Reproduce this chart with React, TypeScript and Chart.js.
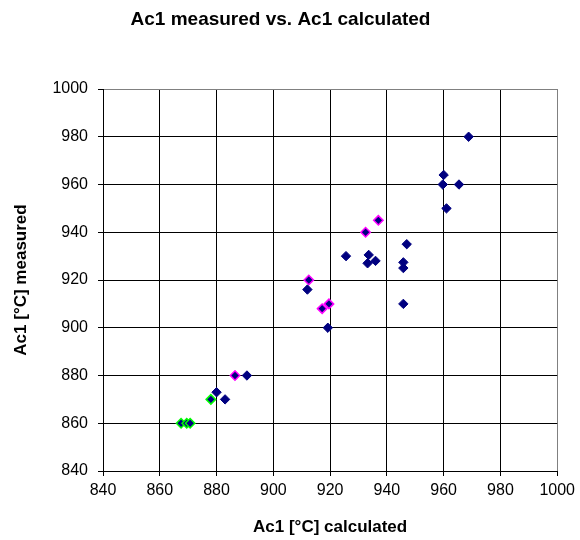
import React, { useEffect, useRef } from "react";
import { Chart, registerables } from "chart.js";

Chart.register(...registerables);

// Ac1 temperatures: calculated (x) vs. measured (y), in °C
const calcMain = [880, 883, 890.7, 912, 919.2, 925.6, 933.6, 933.2, 936, 947, 945.8, 945.8, 945.8, 959.7, 960, 965.4, 961, 968.8];
const measMain = [873, 870, 880, 916, 900, 930, 930.5, 927, 928, 935, 927.4, 925, 910, 960, 964, 960, 950, 980];

const calcPink = [886.5, 912.5, 917.2, 919.6, 932.5, 937];
const measPink = [880, 920, 908, 910, 940, 945];

const calcGreen = [867.5, 869.5, 870.7, 878];
const measGreen = [860, 860, 860, 870];

const axisMin = 840;
const axisMax = 1000;
const axisStep = 20;

const FONT = "'Liberation Sans', Arial, Helvetica, sans-serif";

const toPoints = (xs: number[], ys: number[]) => xs.map((x, i) => ({ x, y: ys[i] }));

export default function App() {
  const canvasRef = useRef<HTMLCanvasElement | null>(null);

  useEffect(() => {
    document.body.style.margin = "0";
    const canvas = canvasRef.current;
    if (!canvas) return;

    // plot-area frame (top and right edges) is grey, inner gridlines black
    const gridColor = (ctx: any) =>
      ctx.tick && ctx.tick.value === axisMax ? "#808080" : "#000000";

    const plainLabel = (value: any) => String(value);

    const chart = new Chart(canvas, {
      type: "scatter",
      data: {
        datasets: [
          {
            label: "main",
            data: toPoints(calcMain, measMain),
            pointStyle: "rectRot",
            pointRadius: 4.7,
            backgroundColor: "#000080",
            borderColor: "#000080",
            borderWidth: 1,
          },
          {
            label: "pink",
            data: toPoints(calcPink, measPink),
            pointStyle: "rectRot",
            pointRadius: 4.7,
            backgroundColor: "#000080",
            borderColor: "#FF00FF",
            borderWidth: 1.5,
          },
          {
            label: "green",
            data: toPoints(calcGreen, measGreen),
            pointStyle: "rectRot",
            pointRadius: 4.7,
            backgroundColor: "#000080",
            borderColor: "#00FF00",
            borderWidth: 1.5,
          },
        ],
      },
      options: {
        responsive: false,
        animation: false,
        devicePixelRatio: 1,
        layout: { padding: { left: 0, right: 19, top: 0, bottom: 0 } },
        plugins: {
          legend: { display: false },
          tooltip: { enabled: false },
          title: {
            display: true,
            text: "Ac1 measured vs. Ac1 calculated",
            color: "#000",
            font: { family: FONT, size: 19, weight: "bold" },
            padding: { top: 8, bottom: 58.2 },
          },
        },
        scales: {
          x: {
            type: "linear",
            min: axisMin,
            max: axisMax,
            afterFit: (scale: any) => {
              scale.height = 69;
            },
            ticks: {
              stepSize: axisStep,
              color: "#000",
              font: { family: FONT, size: 16 },
              padding: 5,
              maxRotation: 0,
              callback: plainLabel,
            },
            grid: {
              color: gridColor,
              tickColor: "#000",
              lineWidth: 1,
              tickLength: 5,
            },
            border: { display: true, color: "#000", width: 1 },
            title: {
              display: true,
              text: "Ac1 [°C] calculated",
              color: "#000",
              font: { family: FONT, size: 17, weight: "bold" },
              padding: { top: 0, bottom: 2 },
            },
          },
          y: {
            type: "linear",
            min: axisMin,
            max: axisMax,
            afterFit: (scale: any) => {
              scale.width = 103;
            },
            ticks: {
              stepSize: axisStep,
              color: "#000",
              font: { family: FONT, size: 16 },
              padding: 10,
              callback: plainLabel,
            },
            grid: {
              color: gridColor,
              tickColor: "#000",
              lineWidth: 1,
              tickLength: 5,
            },
            border: { display: true, color: "#000", width: 1 },
            title: {
              display: true,
              text: "Ac1 [°C] measured",
              color: "#000",
              font: { family: FONT, size: 17, weight: "bold" },
              padding: { top: 11, bottom: 0 },
            },
          },
        },
      },
    });

    return () => {
      chart.destroy();
    };
  }, []);

  return (
    <div style={{ width: 580, height: 540, background: "#fff" }}>
      <canvas ref={canvasRef} width={580} height={540} style={{ display: "block", width: 580, height: 540 }} />
    </div>
  );
}
